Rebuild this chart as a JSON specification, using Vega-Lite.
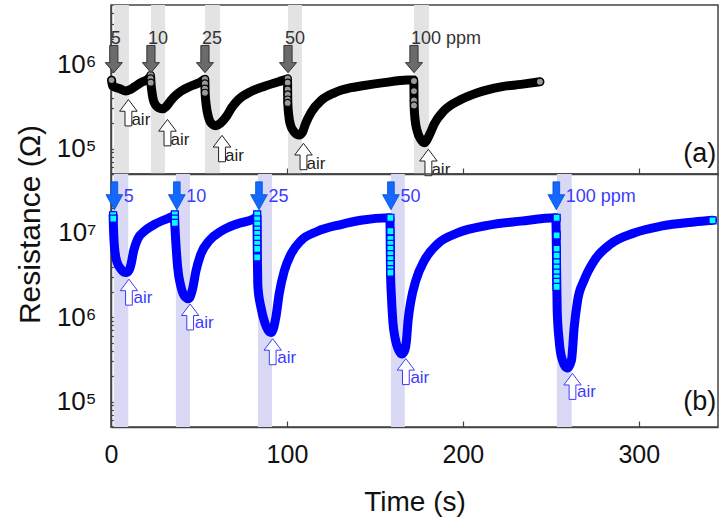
{
  "$schema": "https://vega.github.io/schema/vega-lite/v6.json",
  "background": "white",
  "padding": {"left": 14, "top": -1, "right": 1, "bottom": 2},
  "spacing": 0,
  "bounds": "flush",
  "config": {
    "view": {"stroke": "#444", "strokeWidth": 1.5},
    "font": "Liberation Sans",
    "axis": {
      "grid": false,
      "domainColor": "#444",
      "domainWidth": 1.5,
      "tickColor": "#444",
      "tickWidth": 1.2,
      "labelFont": "Liberation Sans",
      "titleFont": "Liberation Sans",
      "labelColor": "#111",
      "titleColor": "#111",
      "titleFontWeight": "normal",
      "labelOverlap": false,
      "labelBound": false
    }
  },
  "datasets": {
    "gas_a": [
      {"start": 1.7, "end": 10.2}, {"start": 22.7, "end": 30.7}, {"start": 53.4, "end": 61.9},
      {"start": 100.6, "end": 108.5}, {"start": 172.2, "end": 180.7}
    ],
    "gas_b": [
      {"start": 1.6, "end": 9.8}, {"start": 36.9, "end": 44.9}, {"start": 83.5, "end": 91.5},
      {"start": 159.1, "end": 167.0}, {"start": 253.4, "end": 261.9}
    ],
    "trace_a": [
      {"t": 0.3, "r": 645700}, {"t": 0.9, "r": 549500}, {"t": 4.7, "r": 512900}, {"t": 8.5, "r": 478600},
      {"t": 11, "r": 501200}, {"t": 13.3, "r": 537000}, {"t": 17, "r": 602600}, {"t": 20.8, "r": 660700},
      {"t": 22.5, "r": 707900},
      {"t": 22.7, "r": 602600}, {"t": 23.2, "r": 478600}, {"t": 24, "r": 380200}, {"t": 25.5, "r": 323600},
      {"t": 27.3, "r": 302000}, {"t": 29.4, "r": 295100}, {"t": 31.5, "r": 316200}, {"t": 34.1, "r": 371500},
      {"t": 36.8, "r": 426600}, {"t": 39.8, "r": 478600}, {"t": 45.5, "r": 549500}, {"t": 51.1, "r": 616600},
      {"t": 53.3, "r": 660700},
      {"t": 53.5, "r": 457100}, {"t": 54.2, "r": 316200}, {"t": 55.3, "r": 239900}, {"t": 57, "r": 199500},
      {"t": 59.7, "r": 186200}, {"t": 62.2, "r": 199500}, {"t": 65.9, "r": 245500}, {"t": 68.8, "r": 309000},
      {"t": 72.5, "r": 380200}, {"t": 80.1, "r": 478600}, {"t": 87.7, "r": 549500}, {"t": 95.3, "r": 616600},
      {"t": 100.3, "r": 660700},
      {"t": 100.5, "r": 346700}, {"t": 101, "r": 251200}, {"t": 102, "r": 190500}, {"t": 104, "r": 158500},
      {"t": 107, "r": 144500}, {"t": 109, "r": 158500}, {"t": 110.5, "r": 195000}, {"t": 113.8, "r": 269200},
      {"t": 119.5, "r": 371500}, {"t": 127, "r": 457100}, {"t": 136.4, "r": 524800}, {"t": 142, "r": 549500},
      {"t": 155, "r": 602600}, {"t": 168.6, "r": 645700}, {"t": 172.1, "r": 645700},
      {"t": 172.3, "r": 316200}, {"t": 172.8, "r": 223900}, {"t": 174, "r": 162200}, {"t": 176, "r": 128800},
      {"t": 178, "r": 117500}, {"t": 181.4, "r": 151400}, {"t": 183.7, "r": 195000}, {"t": 189.4, "r": 281800},
      {"t": 198.9, "r": 380200}, {"t": 208.3, "r": 457100}, {"t": 221.6, "r": 537000}, {"t": 233, "r": 575400},
      {"t": 243.8, "r": 616600}
    ],
    "dots_a": [
      {"t": 0.3, "r": 645700},
      {"t": 22.5, "r": 741300}, {"t": 22.5, "r": 676100}, {"t": 22.6, "r": 602600},
      {"t": 53.4, "r": 660700}, {"t": 53.4, "r": 588800}, {"t": 53.4, "r": 512900}, {"t": 53.4, "r": 457100},
      {"t": 100.4, "r": 676100}, {"t": 100.4, "r": 602600}, {"t": 100.4, "r": 501200}, {"t": 100.4, "r": 436500},
      {"t": 100.4, "r": 380200}, {"t": 100.4, "r": 346700},
      {"t": 172.2, "r": 631000}, {"t": 172.2, "r": 478600}, {"t": 172.2, "r": 371500}, {"t": 172.2, "r": 323600},
      {"t": 243.8, "r": 616600}
    ],
    "trace_b": [
      {"t": 1.2, "r": 16220000}, {"t": 1.4, "r": 11480000}, {"t": 1.9, "r": 7079000}, {"t": 3.2, "r": 4677000},
      {"t": 5.7, "r": 3715000}, {"t": 8.5, "r": 3388000}, {"t": 10.3, "r": 3631000}, {"t": 11.4, "r": 4266000},
      {"t": 12.9, "r": 6166000}, {"t": 15.2, "r": 8511000}, {"t": 18.9, "r": 10470000}, {"t": 24.6, "r": 12590000},
      {"t": 32.2, "r": 14790000}, {"t": 36.1, "r": 15850000},
      {"t": 36.4, "r": 11220000}, {"t": 36.9, "r": 7413000}, {"t": 37.9, "r": 3890000}, {"t": 39.8, "r": 2291000},
      {"t": 42.2, "r": 1738000}, {"t": 44.1, "r": 1660000}, {"t": 46.4, "r": 2188000}, {"t": 48.3, "r": 3548000},
      {"t": 51.1, "r": 5623000}, {"t": 55.9, "r": 8128000}, {"t": 62.5, "r": 10470000}, {"t": 72, "r": 12880000},
      {"t": 81.4, "r": 14790000}, {"t": 82.9, "r": 15850000},
      {"t": 83.2, "r": 5012000}, {"t": 83.5, "r": 2291000}, {"t": 85.2, "r": 1318000}, {"t": 87.5, "r": 851100},
      {"t": 89.9, "r": 676100}, {"t": 91.2, "r": 660700}, {"t": 93.7, "r": 1000000}, {"t": 95.6, "r": 1905000},
      {"t": 98.5, "r": 3548000}, {"t": 102.3, "r": 5623000}, {"t": 108, "r": 8128000}, {"t": 117.4, "r": 10470000},
      {"t": 130.7, "r": 12590000}, {"t": 142, "r": 14130000}, {"t": 158.5, "r": 15140000},
      {"t": 158.9, "r": 3162000}, {"t": 159.3, "r": 1905000}, {"t": 160.2, "r": 891300}, {"t": 161.5, "r": 562300},
      {"t": 163.3, "r": 416900}, {"t": 165.2, "r": 367300}, {"t": 166.8, "r": 398100}, {"t": 167.8, "r": 501200},
      {"t": 168.9, "r": 933300}, {"t": 170.5, "r": 1585000}, {"t": 173.3, "r": 2754000}, {"t": 178, "r": 4677000},
      {"t": 185.6, "r": 7413000}, {"t": 197, "r": 10000000}, {"t": 214, "r": 12300000}, {"t": 233, "r": 13800000},
      {"t": 252.8, "r": 15140000},
      {"t": 253.4, "r": 2291000}, {"t": 253.6, "r": 1202000}, {"t": 254.7, "r": 537000}, {"t": 255.3, "r": 407400},
      {"t": 256.6, "r": 309000}, {"t": 258, "r": 263000}, {"t": 259.5, "r": 251200}, {"t": 261.7, "r": 309000},
      {"t": 263.3, "r": 776200}, {"t": 265.2, "r": 1585000}, {"t": 268.9, "r": 2754000}, {"t": 274.6, "r": 4677000},
      {"t": 284, "r": 7413000}, {"t": 297.3, "r": 10000000}, {"t": 312.5, "r": 12020000}, {"t": 331.4, "r": 13490000},
      {"t": 341.9, "r": 14130000}
    ],
    "dots_b": [
      {"t": 1.2, "r": 16220000}, {"t": 1.3, "r": 14790000},
      {"t": 36.3, "r": 16600000}, {"t": 36.3, "r": 14790000}, {"t": 36.3, "r": 13180000},
      {"t": 83.1, "r": 16600000}, {"t": 83.1, "r": 14450000}, {"t": 83.1, "r": 12590000}, {"t": 83.1, "r": 10960000},
      {"t": 83.1, "r": 9772000}, {"t": 83.1, "r": 8511000}, {"t": 83.1, "r": 7413000}, {"t": 83.1, "r": 6457000},
      {"t": 83.1, "r": 5129000},
      {"t": 158.8, "r": 15140000}, {"t": 158.8, "r": 10470000}, {"t": 158.8, "r": 8511000}, {"t": 158.8, "r": 7413000},
      {"t": 158.8, "r": 6457000}, {"t": 158.8, "r": 5623000}, {"t": 158.8, "r": 4898000}, {"t": 158.8, "r": 4266000},
      {"t": 158.8, "r": 3715000}, {"t": 158.8, "r": 3388000},
      {"t": 253.3, "r": 15140000}, {"t": 253.3, "r": 9333000}, {"t": 253.3, "r": 6457000}, {"t": 253.3, "r": 5370000},
      {"t": 253.3, "r": 4467000}, {"t": 253.3, "r": 3890000}, {"t": 253.3, "r": 3388000}, {"t": 253.3, "r": 2951000},
      {"t": 253.3, "r": 2630000}, {"t": 253.3, "r": 2291000},
      {"t": 341.9, "r": 14130000}
    ],
    "dose_a": [
      {"t": 1.6, "r": 1146000, "label": "5"}, {"t": 22.7, "r": 1146000, "label": "10"},
      {"t": 53.4, "r": 1146000, "label": "25"}, {"t": 100.6, "r": 1146000, "label": "50"},
      {"t": 172.2, "r": 1146000, "label": "100 ppm"}
    ],
    "dose_b": [
      {"t": 1.9, "r": 27540000, "label": "5"}, {"t": 37.4, "r": 27540000, "label": "10"},
      {"t": 84.1, "r": 27540000, "label": "25"}, {"t": 159.1, "r": 27540000, "label": "50"},
      {"t": 253.1, "r": 27540000, "label": "100 ppm"}
    ],
    "purge_a": [
      {"t": 9.9, "r": 265500, "label": "air"}, {"t": 32.1, "r": 154200, "label": "air"},
      {"t": 63.1, "r": 100000, "label": "air"}, {"t": 109.4, "r": 80540, "label": "air"},
      {"t": 180.4, "r": 68390, "label": "air"}
    ],
    "purge_b": [
      {"t": 10.2, "r": 1986000, "label": "air"}, {"t": 45.0, "r": 1009000, "label": "air"},
      {"t": 91.9, "r": 390900, "label": "air"}, {"t": 167.6, "r": 227000, "label": "air"},
      {"t": 262.3, "r": 151400, "label": "air"}
    ],
    "tag_a": [{"t": 344, "r": 69020, "tag": "(a)"}],
    "tag_b": [{"t": 344, "r": 80540, "tag": "(b)"}]
  },
  "vconcat": [
    {
      "width": 607,
      "height": 169,
      "layer": [
        {
          "data": {"name": "gas_a"},
          "mark": {"type": "rect", "color": "#e3e3e3"},
          "encoding": {
            "x": {
              "field": "start", "type": "quantitative",
              "scale": {"domain": [0, 345], "nice": false, "zero": false},
              "axis": {"values": [0, 100, 200, 300], "labels": false, "title": null, "tickSize": -6}
            },
            "x2": {"field": "end"}
          }
        },
        {
          "data": {"name": "trace_a"},
          "mark": {"type": "line", "color": "#000000", "strokeWidth": 9, "interpolate": "monotone", "strokeCap": "round", "strokeJoin": "round"},
          "encoding": {
            "x": {"field": "t", "type": "quantitative"},
            "y": {
              "field": "r", "type": "quantitative",
              "scale": {"type": "log", "domain": [50000, 5000000], "nice": false},
              "axis": {
                "title": null,
                "values": [60000, 70000, 80000, 90000, 100000, 200000, 300000, 400000, 500000, 600000, 700000, 800000, 900000, 1000000, 2000000, 3000000, 4000000],
                "labelExpr": "abs(log(datum.value)/LN10 - round(log(datum.value)/LN10)) < 0.01 ? (round(log(datum.value)/LN10) == 5 ? '10⁵' : '10⁶') : ''",
                "labelFontSize": 26,
                "labelPadding": 23,
                "tickSize": {"condition": {"test": "abs(log(datum.value)/LN10 - round(log(datum.value)/LN10)) < 0.01", "value": -8}, "value": -4}
              }
            }
          }
        },
        {
          "data": {"name": "dots_a"},
          "mark": {"type": "point", "shape": "circle", "filled": true, "fill": "#9a9a9a", "stroke": "#000000", "strokeWidth": 1.2, "size": 50, "opacity": 1},
          "encoding": {"x": {"field": "t", "type": "quantitative"}, "y": {"field": "r", "type": "quantitative"}}
        },
        {
          "data": {"name": "dose_a"},
          "mark": {"type": "point", "shape": "M-0.48,-1.6L0.48,-1.6L0.48,0.42L1,0.42L0,1.6L-1,0.42L-0.48,0.42Z", "size": 290, "filled": true, "fill": "#6b6b6b", "stroke": "#333333", "strokeWidth": 1, "opacity": 1},
          "encoding": {"x": {"field": "t", "type": "quantitative"}, "y": {"field": "r", "type": "quantitative"}}
        },
        {
          "data": {"name": "dose_a"},
          "mark": {"type": "text", "align": "left", "baseline": "alphabetic", "dx": -3, "dy": -15, "fontSize": 18, "color": "#333333"},
          "encoding": {"x": {"field": "t", "type": "quantitative"}, "y": {"field": "r", "type": "quantitative"}, "text": {"field": "label"}}
        },
        {
          "data": {"name": "purge_a"},
          "mark": {"type": "point", "shape": "M0,-1.5L1,-0.17L0.39,-0.17L0.39,1.5L-0.39,1.5L-0.39,-0.17L-1,-0.17Z", "size": 310, "filled": true, "fill": "#ffffff", "stroke": "#222222", "strokeWidth": 1, "opacity": 1},
          "encoding": {"x": {"field": "t", "type": "quantitative"}, "y": {"field": "r", "type": "quantitative"}}
        },
        {
          "data": {"name": "purge_a"},
          "mark": {"type": "text", "align": "left", "baseline": "alphabetic", "dx": 3, "dy": 12.5, "fontSize": 17, "color": "#222222"},
          "encoding": {"x": {"field": "t", "type": "quantitative"}, "y": {"field": "r", "type": "quantitative"}, "text": {"field": "label"}}
        },
        {
          "data": {"name": "tag_a"},
          "mark": {"type": "text", "align": "right", "baseline": "alphabetic", "fontSize": 27, "color": "#111111"},
          "encoding": {"x": {"field": "t", "type": "quantitative"}, "y": {"field": "r", "type": "quantitative"}, "text": {"field": "tag"}}
        }
      ]
    },
    {
      "width": 607,
      "height": 253,
      "layer": [
        {
          "data": {"name": "gas_b"},
          "mark": {"type": "rect", "color": "#d9d9f5"},
          "encoding": {
            "x": {
              "field": "start", "type": "quantitative",
              "scale": {"domain": [0, 345], "nice": false, "zero": false},
              "axis": {
                "values": [0, 100, 200, 300], "title": "Time (s)", "tickSize": -6,
                "labelFontSize": 25, "labelPadding": 21, "labelFlush": false,
                "titleFontSize": 28, "titleBaseline": "alphabetic", "titleY": 83
              }
            },
            "x2": {"field": "end"}
          }
        },
        {
          "data": {"name": "trace_b"},
          "mark": {"type": "line", "color": "#0000ff", "strokeWidth": 9, "interpolate": "monotone", "strokeCap": "round", "strokeJoin": "round"},
          "encoding": {
            "x": {"field": "t", "type": "quantitative"},
            "y": {
              "field": "r", "type": "quantitative",
              "scale": {"type": "log", "domain": [50000, 50000000], "nice": false},
              "axis": {
                "title": "Resistance (Ω)",
                "titleFontSize": 30,
                "titleAngle": -90,
                "titleBaseline": "alphabetic",
                "titleAlign": "center",
                "titleX": -72,
                "titleY": 50,
                "values": [60000, 70000, 80000, 90000, 100000, 200000, 300000, 400000, 500000, 600000, 700000, 800000, 900000, 1000000, 2000000, 3000000, 4000000, 5000000, 6000000, 7000000, 8000000, 9000000, 10000000, 20000000, 30000000, 40000000],
                "labelExpr": "abs(log(datum.value)/LN10 - round(log(datum.value)/LN10)) < 0.01 ? (round(log(datum.value)/LN10) == 5 ? '10⁵' : round(log(datum.value)/LN10) == 6 ? '10⁶' : '10⁷') : ''",
                "labelFontSize": 26,
                "labelPadding": 23,
                "tickSize": {"condition": {"test": "abs(log(datum.value)/LN10 - round(log(datum.value)/LN10)) < 0.01", "value": -8}, "value": -4}
              }
            }
          }
        },
        {
          "data": {"name": "dots_b"},
          "mark": {"type": "point", "shape": "square", "filled": true, "fill": "#00ffff", "stroke": "#0000ff", "strokeWidth": 1.2, "size": 49, "opacity": 1},
          "encoding": {"x": {"field": "t", "type": "quantitative"}, "y": {"field": "r", "type": "quantitative"}}
        },
        {
          "data": {"name": "dose_b"},
          "mark": {"type": "point", "shape": "M-0.4,-1.67L0.4,-1.67L0.4,-0.14L1,-0.14L0,1.67L-1,-0.14L-0.4,-0.14Z", "size": 280, "filled": true, "fill": "#1467ff", "stroke": "#0050d0", "strokeWidth": 0.8, "opacity": 1},
          "encoding": {"x": {"field": "t", "type": "quantitative"}, "y": {"field": "r", "type": "quantitative"}}
        },
        {
          "data": {"name": "dose_b"},
          "mark": {"type": "text", "align": "left", "baseline": "alphabetic", "dx": 9.5, "dy": 6.5, "fontSize": 18, "color": "#3b3bff"},
          "encoding": {"x": {"field": "t", "type": "quantitative"}, "y": {"field": "r", "type": "quantitative"}, "text": {"field": "label"}}
        },
        {
          "data": {"name": "purge_b"},
          "mark": {"type": "point", "shape": "M0,-1.5L1,-0.17L0.39,-0.17L0.39,1.5L-0.39,1.5L-0.39,-0.17L-1,-0.17Z", "size": 300, "filled": true, "fill": "#ffffff", "stroke": "#3b3bff", "strokeWidth": 1, "opacity": 1},
          "encoding": {"x": {"field": "t", "type": "quantitative"}, "y": {"field": "r", "type": "quantitative"}}
        },
        {
          "data": {"name": "purge_b"},
          "mark": {"type": "text", "align": "left", "baseline": "alphabetic", "dx": 4.5, "dy": 11, "fontSize": 17, "color": "#3b3bff"},
          "encoding": {"x": {"field": "t", "type": "quantitative"}, "y": {"field": "r", "type": "quantitative"}, "text": {"field": "label"}}
        },
        {
          "data": {"name": "tag_b"},
          "mark": {"type": "text", "align": "right", "baseline": "alphabetic", "fontSize": 27, "color": "#111111"},
          "encoding": {"x": {"field": "t", "type": "quantitative"}, "y": {"field": "r", "type": "quantitative"}, "text": {"field": "tag"}}
        }
      ]
    }
  ]
}
